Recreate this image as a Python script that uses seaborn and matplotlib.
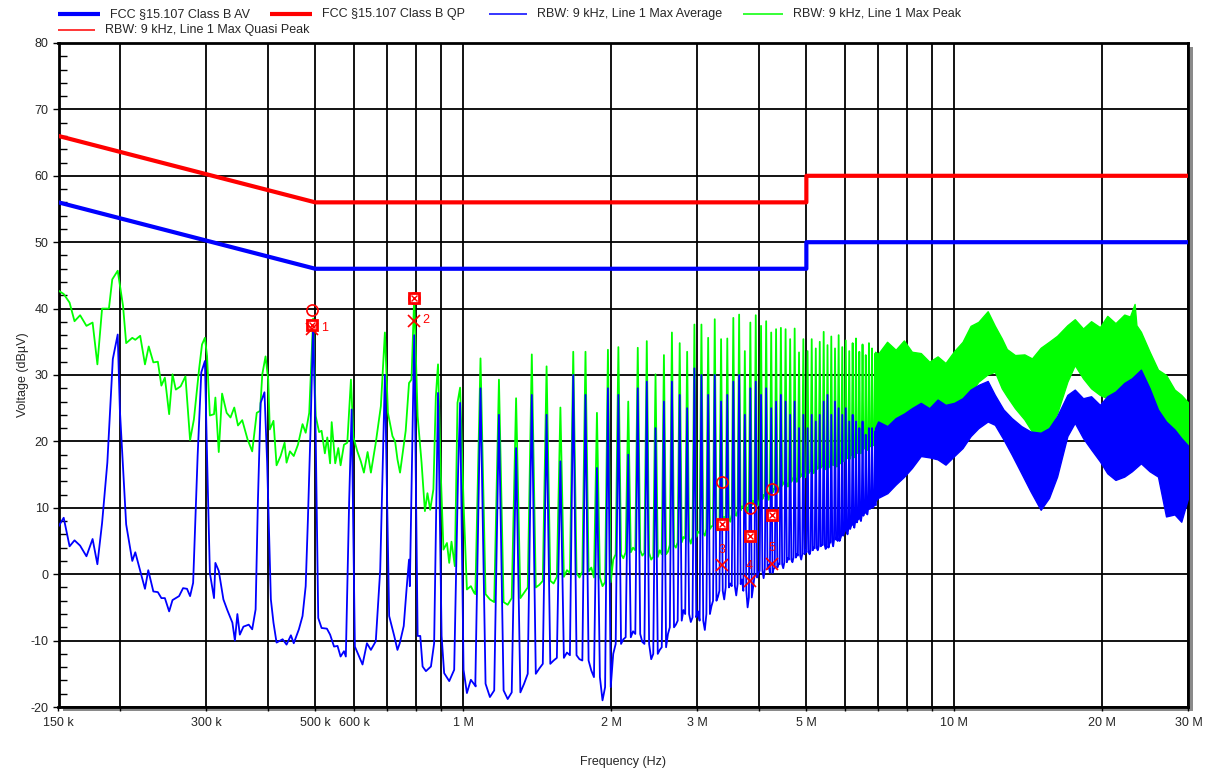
import numpy as np
import pandas as pd
import matplotlib
matplotlib.use('Agg')
import matplotlib.pyplot as plt
from matplotlib.lines import Line2D
from matplotlib.patches import Rectangle
from matplotlib.ticker import MultipleLocator, NullFormatter
import seaborn as sns

# FCC 15.107 class B limits
limit_freq = [150e3, 500e3, 5e6, 5e6, 30e6]
limit_qp = [66, 56, 56, 60, 60]
limit_av = [56, 46, 46, 50, 50]

# 150 kHz - 1.06 MHz, read point by point (kHz, dBuV)
green_low_khz = [150, 153.7, 158, 161.7, 166, 171, 176, 180, 184, 190, 193, 198, 203, 206, 212, 215, 220, 225,
                 229, 234, 239, 243, 247, 252, 256, 260, 266, 272, 278, 283, 290, 294, 298, 301, 305, 311, 313,
                 318, 323, 330, 336, 342, 348, 355, 364, 372, 380, 386, 390, 396, 401, 404, 411, 417, 425, 433,
                 437, 444, 452, 461, 471, 478, 486, 495, 501, 509, 515, 523, 529, 536, 540, 549, 557, 563, 572,
                 581, 591, 598, 609, 619, 628, 639, 649, 664, 680, 693, 703, 718, 727, 735, 744, 764, 776, 785,
                 795, 808, 823, 836, 846, 857, 870, 880, 889, 901, 912, 927, 937, 947, 962, 974, 986, 1002, 1018,
                 1037, 1053]
green_low_db = [42.7, 42.2, 40.9, 38.1, 39.0, 37.4, 37.9, 31.6, 40.0, 40.0, 44.4, 45.7, 40.4, 34.8, 35.6, 35.3,
                35.9, 31.6, 34.3, 31.9, 32.0, 28.4, 29.6, 24.1, 30.1, 27.8, 28.3, 29.8, 20.2, 23.3, 30.9, 34.6,
                35.6, 32.9, 23.9, 24.1, 26.6, 18.4, 27.2, 24.3, 23.6, 25.1, 22.4, 23.2, 20.3, 18.5, 24.3, 24.6,
                30.1, 32.8, 29.3, 21.8, 23.1, 16.4, 17.8, 19.8, 16.8, 18.5, 17.8, 19.5, 22.6, 21.3, 24.3, 38.5,
                23.8, 21.4, 21.6, 18.2, 20.6, 16.7, 22.9, 16.7, 19.0, 16.4, 19.5, 19.8, 29.3, 20.6, 18.5, 17.0,
                15.3, 18.4, 15.3, 19.8, 25.3, 36.4, 24.3, 20.8, 20.0, 17.3, 15.3, 21.6, 28.8, 29.3, 41.6, 23.8,
                16.8, 9.5, 12.2, 9.7, 12.8, 26.8, 31.6, 14.8, 3.7, 4.7, 1.7, 4.9, 1.2, 25.8, 28.1, 10.8, -2.3,
                -1.8, -2.8]

blue_low_khz = [150, 153.7, 158, 161.7, 166, 171, 176, 180, 184, 188.6, 193.5, 198, 200, 206, 212, 215, 220, 225,
                228.5, 234, 239, 243, 247, 252, 256, 264, 269, 274, 278, 282, 288, 293, 298, 301, 305, 311, 313,
                318, 325, 331, 339, 343, 347, 351, 357, 366, 372, 378, 382, 387, 394, 399, 406, 411, 417, 429,
                437, 446, 452, 463, 471, 478, 483, 489, 495, 501, 507, 515, 528, 536, 546, 555, 563, 572, 577,
                586, 593, 602, 614, 624, 637, 649, 664, 678, 693, 707, 724, 735, 743, 757, 767, 776, 779, 795,
                808, 818, 827, 840, 860, 873, 889, 904, 915, 937, 959, 977, 986, 1002, 1018, 1037, 1061]
blue_low_db = [7.2, 8.5, 4.2, 5.1, 4.3, 2.7, 5.3, 1.5, 7.7, 16.8, 32.4, 36.1, 24.8, 7.5, 2.0, 3.3, 0.5, -2.2, 0.6,
               -2.6, -2.7, -3.6, -3.6, -5.6, -3.9, -3.3, -2.1, -2.2, -3.3, -1.3, 17.8, 30.4, 32.1, 17.8, 0.2, -3.6,
               1.7, 0.5, -3.8, -5.4, -7.3, -10.0, -6.0, -9.1, -7.9, -7.6, -8.3, -5.3, 10.8, 25.8, 27.4, 16.8,
               -3.8, -7.3, -10.3, -9.8, -10.6, -9.2, -10.4, -8.3, -6.3, -1.8, 8.2, 21.8, 37.6, 20.8, -6.6, -8.1,
               -8.2, -9.1, -10.9, -10.8, -12.4, -11.6, -12.4, 10.8, 24.8, -10.9, -12.4, -13.6, -10.4, -11.4,
               -10.1, 0.7, 30.0, -6.3, -9.3, -11.4, -10.4, -7.8, -2.3, 2.2, -1.8, 36.0, -9.3, -9.3, -13.9, -14.6,
               -13.9, -10.4, 27.3, -9.3, -14.9, -16.1, -14.4, 15.8, 25.8, -14.4, -17.9, -15.9, -16.9]

# 1.08 - 6.9 MHz harmonics (kHz): peak, floor at the spike base, level in the gap after it
harm_khz = [1085, 1183, 1282, 1380, 1479, 1578, 1676, 1775, 1873, 1972, 2071, 2169, 2268, 2366, 2465, 2564,
            2662, 2761, 2859, 2958, 3057, 3155, 3254, 3352, 3451, 3550, 3648, 3747, 3845, 3944, 4043, 4141,
            4240, 4338, 4437, 4536, 4634, 4733, 4831, 4930, 5029, 5127, 5226, 5324, 5423, 5521, 5620, 5719,
            5817, 5916, 6014, 6113, 6212, 6310, 6409, 6507, 6606, 6705, 6803, 6902]
green_peak = [32.5, 29.3, 26.5, 33.1, 31.3, 25.1, 33.5, 33.5, 24.3, 33.8, 34.2, 26.0, 34.1, 35.1, 30.1, 33.0,
              36.4, 34.8, 33.5, 37.6, 37.6, 35.6, 38.4, 35.4, 35.5, 38.6, 39.1, 33.6, 37.9, 39.0, 37.4, 38.1,
              36.4, 36.9, 37.1, 36.9, 35.4, 37.0, 33.4, 35.4, 33.6, 35.4, 34.0, 35.0, 36.5, 34.5, 35.8, 34.0,
              36.0, 34.2, 35.2, 33.6, 34.8, 35.5, 33.5, 34.6, 33.0, 34.8, 34.0, 33.2]
green_floor = [-3.0, -4.2, -3.6, -2.0, -1.0, -0.4, 0.2, 0.4, -0.5, -1.2, 3.0, 3.3, 3.6, 3.2, 2.6, 3.0, 4.4, 4.8,
               5.4, 5.6, 6.2, 6.8, 7.3, 7.8, 8.4, 9.0, 9.6, 10.0, 10.4, 10.8, 11.3, 11.8, 12.3, 12.8, 13.3, 13.6,
               13.9, 14.3, 14.6, 14.8, 15.2, 15.5, 15.8, 16.0, 16.3, 16.0, 16.6, 16.9, 16.6, 17.2, 17.6, 17.4,
               18.0, 18.2, 18.5, 18.8, 19.0, 19.2, 19.6, 19.8]
green_gap = [-3.8, -4.6, -2.8, -1.6, -1.4, 0.6, -0.5, 1.0, -1.8, 2.2, 2.4, 4.0, 2.8, 2.2, 3.6, 3.4, 4.0, 5.6,
             4.6, 6.4, 5.8, 7.2, 6.6, 8.6, 7.9, 8.8, 10.2, 9.4, 11.0, 10.4, 11.9, 11.2, 12.8, 12.4, 13.8, 13.2,
             14.4, 13.9, 15.0, 14.6, 15.6, 15.2, 16.1, 16.3, 15.8, 16.8, 16.4, 16.2, 17.4, 17.0, 17.8, 18.2,
             17.6, 18.8, 18.2, 19.2, 18.7, 19.6, 19.4, 20.2]
blue_peak = [28, 24, 19, 27, 24, 17, 30, 27, 16, 28, 27, 18, 28, 29, 22, 26, 29, 27, 25, 31, 30, 27, 30, 26,
             27, 29, 30, 24, 28, 29, 27, 28, 25, 26, 27, 26, 24, 26, 22, 24, 22, 24, 23, 24, 26, 27, 24, 26,
             25, 24, 25, 23, 24, 23, 22, 23, 21, 22, 22, 21.5]
blue_floor = [-16.5, -17.5, -17.8, -15.0, -13.5, -12.6, -12.2, -13.0, -15.5, -17.0, -10.5, -9.5, -9.0, -10.5,
              -12.0, -11.0, -8.0, -7.0, -6.0, -6.5, -7.0, -6.0, -4.0, -2.5, -2.0, -1.8, -1.5, -2.5, -3.5, -0.5,
              0.5, 0.8, 0.2, 1.0, 1.5, 1.8, 2.2, 2.5, 2.8, 3.0, 3.3, 3.6, 3.9, 4.2, 4.4, 4.0, 4.8, 5.2, 5.0,
              5.8, 6.5, 6.8, 7.4, 7.8, 8.3, 8.8, 9.2, 9.8, 10.0, 10.4]
blue_gap = [-18.5, -18.8, -16.5, -14.2, -13.0, -11.8, -12.8, -14.5, -19.0, -12.0, -9.8, -8.6, -10.2, -12.8,
            -11.4, -9.0, -7.6, -5.4, -7.2, -5.6, -8.4, -4.8, -3.4, -3.8, -1.4, -3.2, -0.8, -5.0, -2.0, 0.2,
            -0.6, 1.4, 0.8, 1.6, 0.9, 2.4, 1.8, 3.0, 2.2, 3.6, 3.0, 4.0, 3.6, 4.4, 3.8, 4.6, 4.2, 5.6, 5.4,
            6.2, 6.0, 7.2, 7.0, 8.2, 8.0, 9.4, 9.0, 10.2, 10.2, 11.0]

# above 6.9 MHz the harmonics merge into a band: upper / lower edge (MHz, dBuV)
green_band_mhz = [6.9, 7.0, 7.3, 7.6, 7.9, 8.2, 8.55, 8.9, 9.25, 9.6, 10.0, 10.4, 10.8, 11.2, 11.7, 12.1, 12.5,
                  12.8, 13.3, 13.9, 14.4, 15.0, 15.6, 16.2, 17.0, 17.6, 18.3, 19.0, 19.8, 20.5, 21.3, 22.2,
                  22.8, 23.3, 23.5, 24.0, 25.0, 26.0, 27.0, 28.1, 29.0, 30.0]
green_band_top = [33.5, 33.2, 35.0, 33.8, 35.2, 33.5, 33.3, 32.0, 32.8, 31.8, 33.6, 35.0, 37.4, 38.0, 39.6,
                  37.4, 35.5, 33.9, 33.0, 33.1, 32.5, 34.1, 35.0, 35.9, 37.5, 38.4, 37.0, 38.1, 37.2, 38.9,
                  37.8, 39.1, 38.8, 40.7, 37.5, 36.5, 33.5, 30.8, 30.0, 27.8, 27.0, 25.8]
green_band_low = [20.5, 21.0, 21.5, 23.0, 23.5, 25.0, 25.8, 25.0, 25.1, 24.6, 25.3, 26.5, 27.3, 29.0, 30.1,
                  30.5, 28.0, 26.8, 25.0, 23.3, 21.5, 20.8, 22.0, 24.2, 29.0, 31.5, 29.5, 28.0, 27.0, 26.5,
                  26.0, 26.3, 25.5, 25.0, 25.5, 26.3, 24.5, 23.3, 22.0, 21.3, 20.0, 19.3]
blue_band_mhz = [6.9, 7.0, 7.31, 7.6, 7.91, 8.2, 8.55, 8.9, 9.25, 9.6, 10.0, 10.4, 10.8, 11.2, 11.7, 12.1, 12.6,
                 13.1, 13.7, 14.3, 15.0, 15.6, 16.2, 17.0, 17.6, 18.3, 19.0, 19.8, 20.5, 21.3, 22.2, 23.0, 24.0,
                 25.0, 26.0, 27.0, 28.1, 29.0, 30.0]
blue_band_top = [22.0, 23.0, 22.3, 23.5, 24.2, 25.0, 25.8, 25.0, 26.3, 25.5, 25.8, 26.5, 27.8, 28.5, 29.1, 27.0,
                 24.8, 23.5, 22.3, 21.5, 21.3, 22.0, 23.8, 27.0, 27.8, 26.5, 26.8, 25.5, 26.8, 27.5, 28.8, 29.5,
                 30.8, 28.0, 24.8, 23.0, 21.8, 20.5, 19.3]
blue_band_low = [11.0, 11.5, 12.2, 13.5, 14.7, 16.0, 17.8, 17.6, 17.3, 16.5, 17.8, 19.0, 20.8, 22.0, 23.0, 22.5,
                 20.3, 18.0, 15.2, 12.5, 9.7, 11.5, 14.7, 20.8, 22.8, 20.5, 18.8, 17.0, 15.2, 14.2, 14.7, 15.5,
                 16.7, 15.5, 14.7, 8.7, 9.0, 7.9, 11.7]

# final measurement markers
mk_khz = [493, 795, 3370, 3830, 4260]
mk_qp = [39.8, 41.6, 13.9, 10.0, 12.9]
mk_av = [37.5, 41.6, 7.6, 5.7, 8.9]
mk_x = [36.9, 38.1, 1.35, -1.05, 1.6]
mk_labels = ['1', '2', '3', '4', '5']

x_major = [150e3, 300e3, 500e3, 600e3, 1e6, 2e6, 3e6, 5e6, 10e6, 20e6, 30e6]
x_major_labels = ['150 k', '300 k', '500 k', '600 k', '1 M', '2 M', '3 M', '5 M', '10 M', '20 M', '30 M']
x_minor = [200e3, 400e3, 700e3, 800e3, 900e3, 4e6, 6e6, 7e6, 8e6, 9e6]


def spikes(fk, peak, floor, gap, hw=26):
    xs, ys = [], []
    for i in range(len(fk)):
        xs += [fk[i] - hw, fk[i], fk[i] + hw]
        ys += [floor[i], peak[i], floor[i]]
        if i + 1 < len(fk):
            xs.append((fk[i] + fk[i + 1]) / 2)
            ys.append(gap[i])
    return xs, ys


gx, gy = spikes(harm_khz, green_peak, green_floor, green_gap)
bx, by = spikes(harm_khz, blue_peak, blue_floor, blue_gap)
green = pd.DataFrame({'f': np.array(green_low_khz + gx) * 1e3, 'v': green_low_db + gy})
blue = pd.DataFrame({'f': np.array(blue_low_khz + bx) * 1e3, 'v': blue_low_db + by})

sns.set_theme(style='white')
plt.rcParams['font.family'] = ['Liberation Sans', 'DejaVu Sans']
plt.rcParams['font.size'] = 9
plt.rcParams['axes.unicode_minus'] = False

W, H = 1208, 771
fig = plt.figure(figsize=(W / 100, H / 100), dpi=100)
ax = fig.add_axes([58.5 / W, 64 / H, 1130 / W, 664 / H])
fig.add_artist(Rectangle((62.5 / W, 60 / H), 1130 / W, 664 / H, transform=fig.transFigure,
                         facecolor='#8a8a8a', edgecolor='none', zorder=-1))
ax.set_facecolor('white')

GREEN, BLUE, RED = '#00ff00', '#0000ff', '#ff0000'

sns.lineplot(data=green, x='f', y='v', ax=ax, color=GREEN, lw=1.3, sort=False, estimator=None, zorder=3)
ax.fill_between(np.array(green_band_mhz) * 1e6, green_band_low, green_band_top, color=GREEN, lw=1, zorder=3)
sns.lineplot(data=blue, x='f', y='v', ax=ax, color=BLUE, lw=1.3, sort=False, estimator=None, zorder=4)
ax.fill_between(np.array(blue_band_mhz) * 1e6, blue_band_low, blue_band_top, color=BLUE, lw=1, zorder=4)

sns.lineplot(x=limit_freq, y=limit_qp, ax=ax, color=RED, lw=3, sort=False, estimator=None, zorder=5)
sns.lineplot(x=limit_freq, y=limit_av, ax=ax, color=BLUE, lw=3, sort=False, estimator=None, zorder=5)

mk_f = np.array(mk_khz) * 1e3
ax.plot(mk_f, mk_qp, 'o', ms=8, mfc='none', mec=RED, mew=1.2, zorder=6)
ax.plot(mk_f, mk_av, 's', ms=7, mfc='white', mec=RED, mew=2, zorder=6)
ax.plot(mk_f, mk_av, 'x', ms=4, mec=RED, mew=1, zorder=7)
ax.plot(mk_f, mk_x, 'x', ms=8.5, mec=RED, mew=1.2, zorder=6)
for i, lab in enumerate(mk_labels):
    off = (6, 1) if i < 2 else (0, 11)
    ax.annotate(lab, (mk_f[i], mk_x[i]), xytext=off, textcoords='offset points', color=RED,
                fontsize=9, ha='left' if i < 2 else 'center', va='center', zorder=7)

ax.set_xscale('log')
ax.set_xlim(150e3, 30e6)
ax.set_ylim(-20, 80)
ax.set_xticks(x_major, x_major_labels)
ax.set_xticks(x_minor, minor=True)
ax.xaxis.set_minor_formatter(NullFormatter())
ax.set_yticks(range(-20, 81, 10))
ax.yaxis.set_minor_locator(MultipleLocator(2))
ax.grid(which='major', color='black', lw=1.3)
ax.grid(which='minor', axis='x', color='black', lw=1.3)
ax.tick_params(axis='x', which='both', direction='out', length=3, width=1, color='black', pad=4,
               labelsize=9, bottom=True)
ax.tick_params(axis='y', which='major', direction='out', length=4, width=1, color='black', pad=3,
               labelsize=9, left=True)
ax.tick_params(axis='y', which='minor', direction='in', length=6, width=1, color='black', left=True)
for s in ax.spines.values():
    s.set_color('black')
    s.set_linewidth(2)
ax.set_xlabel('Frequency (Hz)', fontsize=9, labelpad=20)
ax.set_ylabel('Voltage (dBµV)', fontsize=9, labelpad=1.5)

# legend laid out like the analyser print-out
legend_items = [
    (58, 100, 14, BLUE, 3, 'FCC §15.107 Class B AV'),
    (270, 312, 14, RED, 3, 'FCC §15.107 Class B QP'),
    (489, 527, 14, BLUE, 1.1, 'RBW: 9 kHz, Line 1 Max Average'),
    (743, 783, 14, GREEN, 1.1, 'RBW: 9 kHz, Line 1 Max Peak'),
    (58, 95, 30, RED, 1.1, 'RBW: 9 kHz, Line 1 Max Quasi Peak'),
]
for x0, x1, y, c, lw, txt in legend_items:
    fig.add_artist(Line2D([x0 / W, x1 / W], [1 - y / H, 1 - y / H], transform=fig.transFigure, color=c, lw=lw,
                          solid_capstyle='butt'))
    fig.text((x1 + 10) / W, 1 - y / H, txt, fontsize=9, va='center', ha='left')

fig.savefig('out.png', dpi=100)
